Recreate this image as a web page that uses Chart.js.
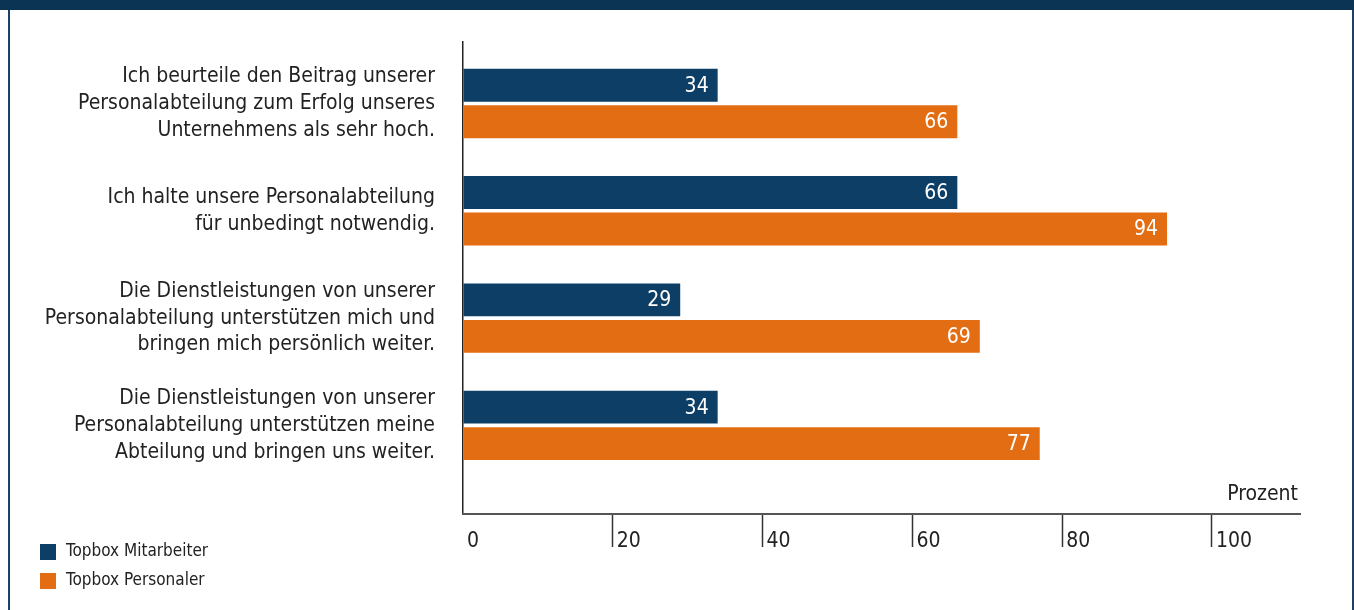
<!DOCTYPE html>
<html>
<head>
<meta charset="utf-8">
<script src="https://cdn.jsdelivr.net/npm/chart.js@4/dist/chart.umd.min.js"></script>
<style>
  html, body { margin: 0; padding: 0; background: #fff; }
  #band { position: absolute; left: 0; top: 0; width: 1354px; height: 10px; background: #0b3354; }
  #frame { position: absolute; left: 8px; top: 10px; width: 1342px; height: 600px;
           border-left: 2px solid #1c4068; border-right: 2px solid #1c4068; }
  #wrap { position: absolute; left: 0; top: 0; width: 1354px; height: 610px; }
</style>
</head>
<body>
<div id="band"></div>
<div id="frame"></div>
<div id="wrap"><canvas id="chart" width="1354" height="610"></canvas></div>
<script>
const FONT = "'Liberation Sans Narrow', 'DejaVu Sans Condensed', sans-serif";
const NAVY = '#0d3f66';
const ORANGE = '#e36d12';
const TEXT = '#222222';

// Kategorien (mehrzeilig), Werte in Prozent
const categories = [
  ['Ich beurteile den Beitrag unserer', 'Personalabteilung zum Erfolg unseres', 'Unternehmens als sehr hoch.'],
  ['Ich halte unsere Personalabteilung', 'für unbedingt notwendig.'],
  ['Die Dienstleistungen von unserer', 'Personalabteilung unterstützen mich und', 'bringen mich persönlich weiter.'],
  ['Die Dienstleistungen von unserer', 'Personalabteilung unterstützen meine', 'Abteilung und bringen uns weiter.'],
];
const mitarbeiter = [34, 66, 29, 34];
const personaler = [66, 94, 69, 77];
const seriesNames = ['Topbox Mitarbeiter', 'Topbox Personaler'];
const xTicks = [0, 20, 40, 60, 80, 100];
const unitLabel = 'Prozent';

const toPoints = (vals) => vals.map((v, i) => ({ x: v, y: i }));

// weiße Zahlen am Balkenende
const valueLabels = {
  id: 'valueLabels',
  afterDatasetsDraw(chart) {
    const { ctx } = chart;
    ctx.save();
    ctx.font = `21px ${FONT}`;
    ctx.fillStyle = '#ffffff';
    ctx.textAlign = 'right';
    ctx.textBaseline = 'middle';
    chart.data.datasets.forEach((ds, di) => {
      chart.getDatasetMeta(di).data.forEach((bar, i) => {
        ctx.fillText(String(ds.data[i].x), bar.x - 9, bar.y + 1);
      });
    });
    ctx.restore();
  }
};

// "Prozent" über dem Achsenende
const unitTitle = {
  id: 'unitTitle',
  afterDraw(chart) {
    const { ctx, chartArea } = chart;
    ctx.save();
    ctx.font = `21px ${FONT}`;
    ctx.fillStyle = TEXT;
    ctx.textAlign = 'right';
    ctx.textBaseline = 'middle';
    ctx.fillText(unitLabel, chartArea.right - 2, chartArea.bottom - 19);
    ctx.restore();
  }
};

// Legende unten links, untereinander
const stackedLegend = {
  id: 'stackedLegend',
  afterDraw(chart) {
    const { ctx } = chart;
    ctx.save();
    ctx.font = `17px ${FONT}`;
    ctx.textAlign = 'left';
    ctx.textBaseline = 'middle';
    chart.data.datasets.forEach((ds, i) => {
      const y = 544 + i * 29;
      ctx.fillStyle = ds.backgroundColor;
      ctx.fillRect(40, y, 16, 16);
      ctx.fillStyle = TEXT;
      ctx.fillText(ds.label, 66, y + 8);
    });
    ctx.restore();
  }
};

new Chart(document.getElementById('chart'), {
  type: 'bar',
  data: {
    datasets: [
      { label: seriesNames[0], data: toPoints(mitarbeiter), backgroundColor: NAVY },
      { label: seriesNames[1], data: toPoints(personaler), backgroundColor: ORANGE },
    ]
  },
  options: {
    indexAxis: 'y',
    responsive: false,
    animation: false,
    categoryPercentage: 0.68,
    barPercentage: 0.9,
    layout: { padding: { top: 42, right: 54, left: 0, bottom: 0 } },
    plugins: { legend: { display: false }, tooltip: { enabled: false } },
    scales: {
      y: {
        type: 'linear',
        reverse: true,
        offset: false,
        min: -0.573,
        max: 3.826,
        afterBuildTicks: (scale) => { scale.ticks = categories.map((c, i) => ({ value: i })); },
        afterFit: (scale) => { scale.width = 463; scale.paddingTop = 0; scale.paddingBottom = 0; },
        grid: { display: false, offset: false },
        border: { display: true, color: '#222', width: 1.5 },
        ticks: {
          padding: 20,
          color: TEXT,
          font: { family: FONT, size: 21, lineHeight: 1.28 },
          callback: (v) => categories[v] || '',
        }
      },
      x: {
        type: 'linear',
        min: 0,
        max: 111.75,
        afterBuildTicks: (scale) => { scale.ticks = xTicks.map(v => ({ value: v })); },
        afterFit: (scale) => { scale.height = 96; },
        grid: {
          display: true,
          drawOnChartArea: false,
          drawTicks: true,
          tickLength: 33,
          tickWidth: 1.5,
          tickColor: (c) => c.tick && c.tick.value === 0 ? 'rgba(0,0,0,0)' : '#333',
        },
        border: { display: true, color: '#555', width: 2 },
        ticks: {
          align: 'start',
          labelOffset: 4,
          padding: -18,
          color: TEXT,
          font: { family: FONT, size: 21 },
          callback: (v) => String(v),
        }
      }
    }
  },
  plugins: [valueLabels, unitTitle, stackedLegend]
});
</script>
</body>
</html>
